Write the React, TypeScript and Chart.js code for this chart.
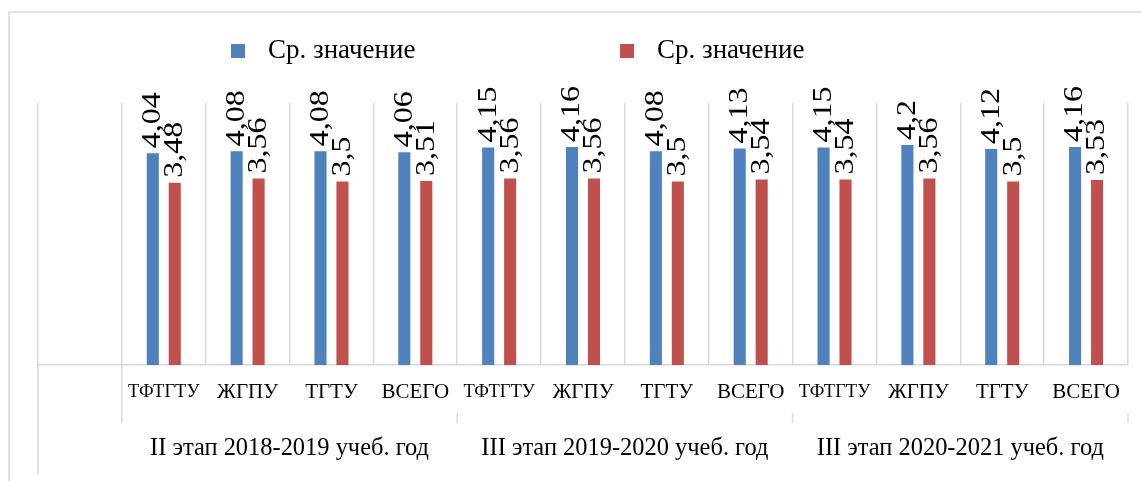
import React, { useEffect, useRef } from "react";
import { Chart, registerables } from "chart.js";

Chart.register(...registerables);

const categories = ["", "ТФТГТУ", "ЖГПУ", "ТГТУ", "ВСЕГО", "ТФТГТУ", "ЖГПУ", "ТГТУ", "ВСЕГО", "ТФТГТУ", "ЖГПУ", "ТГТУ", "ВСЕГО"];
const seriesNames = ["Ср. значение", "Ср. значение"];
const blueValues = [null, 4.04, 4.08, 4.08, 4.06, 4.15, 4.16, 4.08, 4.13, 4.15, 4.2, 4.12, 4.16];
const redValues = [null, 3.48, 3.56, 3.5, 3.51, 3.56, 3.56, 3.5, 3.54, 3.54, 3.56, 3.5, 3.53];
const groupNames = ["II этап 2018-2019 учеб. год", "III этап 2019-2020 учеб. год", "III этап 2020-2021 учеб. год"];
const groupStarts = [1, 5, 9];
const groupEnds = [4, 8, 12];

const BLUE = "#4F81BD";
const RED = "#C0504D";
const GRID = "#d9d9d9";
const FONT = "'Liberation Serif', 'Times New Roman', serif";

function fmt(v: number) {
  return String(v).replace(".", ",");
}

function drawText(
  ctx: CanvasRenderingContext2D,
  text: string,
  x: number,
  y: number,
  size: number,
  sq: number,
  align: CanvasTextAlign = "center"
) {
  ctx.save();
  ctx.translate(x, y);
  ctx.scale(sq, 1);
  ctx.font = `${size}px ${FONT}`;
  ctx.fillStyle = "#000";
  ctx.textAlign = align;
  ctx.textBaseline = "middle";
  ctx.fillText(text, 0, 0);
  ctx.restore();
}

const decor = {
  id: "decor",
  beforeDraw(chart: any) {
    const ctx = chart.ctx as CanvasRenderingContext2D;
    ctx.save();
    ctx.strokeStyle = GRID;
    ctx.lineWidth = 1.5;
    ctx.strokeRect(9, 12, 1300, 600);
    ctx.restore();
  },
  afterDatasetsDraw(chart: any) {
    const ctx = chart.ctx as CanvasRenderingContext2D;
    chart.data.datasets.forEach((ds: any, di: number) => {
      const meta = chart.getDatasetMeta(di);
      meta.data.forEach((bar: any, i: number) => {
        const v = ds.data[i];
        if (v === null || v === undefined) return;
        ctx.save();
        ctx.translate(bar.x, bar.y - 5);
        ctx.scale(0.88, 1);
        ctx.rotate(-Math.PI / 2);
        ctx.font = `32px ${FONT}`;
        ctx.fillStyle = "#000";
        ctx.textAlign = "left";
        ctx.textBaseline = "middle";
        ctx.fillText(fmt(v), 0, 0);
        ctx.restore();
      });
    });
  },
  afterDraw(chart: any) {
    const ctx = chart.ctx as CanvasRenderingContext2D;
    const x = chart.scales.x;
    const area = chart.chartArea;
    const step = x.getPixelForValue(1) - x.getPixelForValue(0);
    const half = step / 2;
    const base = area.bottom;

    ctx.save();
    ctx.strokeStyle = GRID;
    ctx.lineWidth = 1.5;
    const left = x.getPixelForValue(0) - half;
    ctx.beginPath();
    ctx.moveTo(left, base);
    ctx.lineTo(left, base + 110);
    ctx.stroke();
    const g0 = x.getPixelForValue(groupStarts[0]) - half;
    ctx.beginPath();
    ctx.moveTo(g0, base);
    ctx.lineTo(g0, base + 58);
    ctx.stroke();
    groupEnds.forEach((e) => {
      const gx = x.getPixelForValue(e) + half;
      ctx.beginPath();
      ctx.moveTo(gx, base + 48);
      ctx.lineTo(gx, base + 58);
      ctx.stroke();
    });
    ctx.restore();

    // category labels: shrink font to fit inside the category
    const maxW = step - 11;
    categories.forEach((c, i) => {
      if (!c) return;
      let size = 21;
      ctx.font = `${size}px ${FONT}`;
      const w = ctx.measureText(c).width;
      if (w > maxW) size = Math.floor((size * maxW) / w * 2) / 2;
      drawText(ctx, c, x.getPixelForValue(i), base + 27, size, 1);
    });
    groupNames.forEach((g, gi) => {
      const cx = (x.getPixelForValue(groupStarts[gi]) + x.getPixelForValue(groupEnds[gi])) / 2;
      drawText(ctx, g, cx, base + 83, 26, 0.94);
    });

    const legendPos = [231, 620];
    chart.data.datasets.forEach((ds: any, di: number) => {
      const lx = legendPos[di];
      ctx.save();
      ctx.fillStyle = ds.backgroundColor;
      ctx.fillRect(lx, 44, 14, 14);
      ctx.restore();
      drawText(ctx, ds.label, lx + 37, 51, 27, 1, "left");
    });
  },
};

export default function App() {
  const ref = useRef<HTMLCanvasElement | null>(null);
  useEffect(() => {
    if (!ref.current) return;
    const chart = new Chart(ref.current, {
      type: "bar",
      data: {
        labels: categories,
        datasets: [
          { label: seriesNames[0], data: blueValues as any, backgroundColor: BLUE, categoryPercentage: 0.524, barPercentage: 0.55 },
          { label: seriesNames[1], data: redValues as any, backgroundColor: RED, categoryPercentage: 0.524, barPercentage: 0.55 },
        ],
      },
      options: {
        responsive: false,
        animation: false,
        layout: { padding: { left: 38, right: 14, top: 103, bottom: 116 } },
        plugins: { legend: { display: false }, tooltip: { enabled: false } },
        scales: {
          x: {
            display: true,
            offset: true,
            grid: { offset: true, color: GRID, lineWidth: 1.5, drawTicks: false },
            border: { display: true, color: GRID, width: 1.5 },
            ticks: { display: false },
          },
          y: { display: false, min: 0, max: 5 },
        },
      },
      plugins: [decor],
    });
    return () => chart.destroy();
  }, []);
  return (
    <div style={{ position: "absolute", left: 0, top: 0, width: 1142, height: 481, background: "#fff" }}>
      <canvas ref={ref} width={1142} height={481} />
    </div>
  );
}
